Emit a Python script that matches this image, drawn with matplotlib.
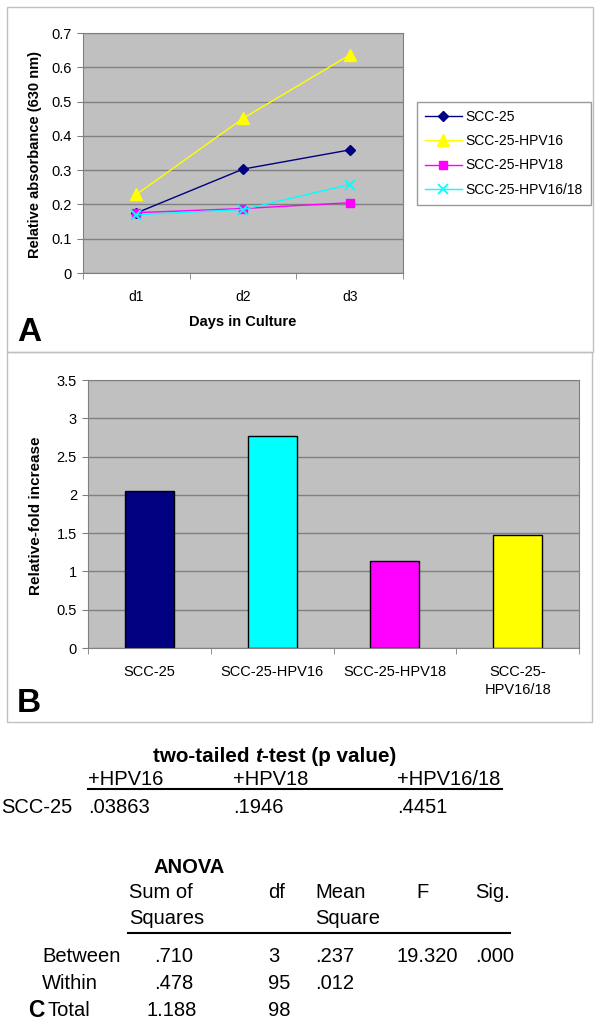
import numpy as np
import matplotlib
matplotlib.use('Agg')
import matplotlib.pyplot as plt
from matplotlib.patches import Rectangle
from matplotlib.lines import Line2D

plt.rcParams['font.family'] = ['Liberation Sans', 'DejaVu Sans']

# ---------------------------------------------------
# DATA
# ---------------------------------------------------
days = ['d1', 'd2', 'd3']
line_names = ['SCC-25', 'SCC-25-HPV16', 'SCC-25-HPV18', 'SCC-25-HPV16/18']
scc25 = [0.175, 0.303, 0.359]
hpv16 = [0.229, 0.451, 0.636]
hpv18 = [0.176, 0.188, 0.205]
hpv1618 = [0.170, 0.185, 0.258]

bar_labels = ['SCC-25', 'SCC-25-HPV16', 'SCC-25-HPV18', 'SCC-25-\nHPV16/18']
fold_increase = [2.05, 2.77, 1.14, 1.47]

ttest_cols = ['+HPV16', '+HPV18', '+HPV16/18']
ttest_vals = ['.03863', '.1946', '.4451']

anova_rows = ['Between', 'Within', 'Total']
anova_ss = ['.710', '.478', '1.188']
anova_df = ['3', '95', '98']
anova_ms = ['.237', '.012', '']
anova_f = ['19.320', '', '']
anova_sig = ['.000', '', '']

# ---------------------------------------------------
# HELPERS (pixel -> figure coords)
# ---------------------------------------------------
W, H = 600, 1029

def fx(x):
    return x / W

def fy(y):
    return 1 - y / H

def box(l, t, r, b):
    return [fx(l), fy(b), (r - l) / W, (b - t) / H]

fig = plt.figure(figsize=(6, 10.29), dpi=100)
fig.patch.set_facecolor('white')

# outer frames of panels A and B
for (l, t, r, b) in [(7, 7, 593, 352), (7, 352, 592, 722)]:
    fig.add_artist(Rectangle((fx(l), fy(b)), (r - l) / W, (b - t) / H, fill=False,
                             ec='#c0c0c0', lw=1, transform=fig.transFigure))

gray = '#808080'

def style_axes(ax, xsize):
    ax.set_facecolor('#c0c0c0')
    ax.set_axisbelow(True)
    ax.yaxis.grid(True, color=gray, lw=1)
    for s in ax.spines.values():
        s.set_color(gray)
    ax.tick_params(axis='y', length=4, color=gray, labelsize=10.5, pad=4)
    ax.tick_params(axis='x', which='major', length=0, labelsize=xsize, pad=12)
    ax.tick_params(axis='x', which='minor', length=4, color=gray)

# ---------------------------------------------------
# PANEL A
# ---------------------------------------------------
axA = fig.add_axes(box(83, 33, 403, 273))
style_axes(axA, 10)
x = np.arange(1, len(days) + 1)
axA.plot(x, scc25, color='#000080', marker='D', ms=5.5, lw=1, label=line_names[0])
axA.plot(x, hpv16, color='#ffff00', marker='^', ms=8, lw=1, label=line_names[1])
axA.plot(x, hpv18, color='#ff00ff', marker='s', ms=6, lw=1, label=line_names[2])
axA.plot(x, hpv1618, color='#00ffff', marker='x', ms=7, mew=1.3, lw=1, label=line_names[3])
axA.set_xlim(0.5, 3.5)
axA.set_ylim(0, 0.7)
yt = np.round(np.arange(0, 0.71, 0.1), 1)
axA.set_yticks(yt)
axA.set_yticklabels([f'{v:g}' for v in yt])
axA.set_xticks(x)
axA.set_xticklabels(days)
axA.set_xticks(np.arange(0.5, 3.6, 1), minor=True)

fig.text(fx(35), fy(155), 'Relative absorbance (630 nm)', rotation=90, ha='center',
         va='center', fontsize=10.5, fontweight='bold')
fig.text(fx(243), fy(322), 'Days in Culture', ha='center', va='center',
         fontsize=10.5, fontweight='bold')
fig.text(fx(17), fy(341), 'A', ha='left', va='baseline', fontsize=24, fontweight='bold')

axA.legend(loc='upper left', bbox_to_anchor=(fx(417), fy(102)), bbox_transform=fig.transFigure,
           frameon=True, fancybox=False, edgecolor=gray, fontsize=10, handlelength=2.7,
           handletextpad=0.25, labelspacing=0.75, borderpad=0.55, borderaxespad=0)

# ---------------------------------------------------
# PANEL B
# ---------------------------------------------------
axB = fig.add_axes(box(88, 380, 579, 648))
style_axes(axB, 10.5)
bx = np.arange(len(bar_labels))
axB.bar(bx, fold_increase, width=0.4, color=['#000080', '#00ffff', '#ff00ff', '#ffff00'],
        edgecolor='black', lw=1)
axB.set_xlim(-0.5, 3.5)
axB.set_ylim(0, 3.5)
ytb = np.arange(0, 3.51, 0.5)
axB.set_yticks(ytb)
axB.set_yticklabels([f'{v:g}' for v in ytb])
axB.set_xticks(bx)
axB.set_xticklabels(bar_labels, va='top', linespacing=1.4)
axB.set_xticks(np.arange(-0.5, 3.6, 1), minor=True)

fig.text(fx(36), fy(516), 'Relative-fold increase', rotation=90, ha='center',
         va='center', fontsize=11, fontweight='bold')
fig.text(fx(17), fy(712), 'B', ha='left', va='baseline', fontsize=24, fontweight='bold')

# ---------------------------------------------------
# PANEL C : t-test and ANOVA tables
# ---------------------------------------------------
fs = 14.5
renderer = fig.canvas.get_renderer()

t1 = fig.text(fx(153), fy(762), 'two-tailed ', fontsize=14.9, fontweight='bold', va='baseline')
e1 = t1.get_window_extent(renderer)
t2 = fig.text(e1.x1 / W, fy(762), 't', fontsize=14.9, fontweight='bold', style='italic',
              va='baseline')
e2 = t2.get_window_extent(renderer)
fig.text(e2.x1 / W, fy(762), '-test (p value)', fontsize=14.9, fontweight='bold', va='baseline')

col_x = [88, 233, 397]
for cx, name, val in zip(col_x, ttest_cols, ttest_vals):
    fig.text(fx(cx), fy(785), name, fontsize=fs, va='baseline')
    fig.text(fx(cx), fy(813), val, fontsize=fs, va='baseline')
fig.text(fx(1), fy(813), 'SCC-25', fontsize=fs, va='baseline')
fig.add_artist(Line2D([fx(88), fx(502)], [fy(789), fy(789)], color='black', lw=1.5,
                      transform=fig.transFigure))

fig.text(fx(153), fy(873), 'ANOVA', fontsize=fs, fontweight='bold', va='baseline')
fig.text(fx(129), fy(898), 'Sum of', fontsize=fs, va='baseline')
fig.text(fx(129), fy(924), 'Squares', fontsize=fs, va='baseline')
fig.text(fx(268), fy(898), 'df', fontsize=fs, va='baseline')
fig.text(fx(315), fy(898), 'Mean', fontsize=fs, va='baseline')
fig.text(fx(315), fy(924), 'Square', fontsize=fs, va='baseline')
fig.text(fx(422), fy(898), 'F', fontsize=fs, va='baseline', ha='center')
fig.text(fx(475), fy(898), 'Sig.', fontsize=fs, va='baseline')
fig.add_artist(Line2D([fx(128), fx(510)], [fy(933), fy(933)], color='black', lw=1.5,
                      transform=fig.transFigure))

row_y = [962, 989, 1016]
row_label_x = [42, 42, 47]
ss_x = [154, 154, 147]
for i, ry in enumerate(row_y):
    fig.text(fx(row_label_x[i]), fy(ry), anova_rows[i], fontsize=fs, va='baseline')
    fig.text(fx(ss_x[i]), fy(ry), anova_ss[i], fontsize=fs, va='baseline')
    fig.text(fx(268), fy(ry), anova_df[i], fontsize=fs, va='baseline')
    fig.text(fx(315), fy(ry), anova_ms[i], fontsize=fs, va='baseline')
    fig.text(fx(397), fy(ry), anova_f[i], fontsize=fs, va='baseline')
    fig.text(fx(475), fy(ry), anova_sig[i], fontsize=fs, va='baseline')
fig.text(fx(28), fy(1017), 'C', fontsize=16.5, fontweight='bold', va='baseline')

fig.savefig('out.png', dpi=100, facecolor='white')
plt.close(fig)
